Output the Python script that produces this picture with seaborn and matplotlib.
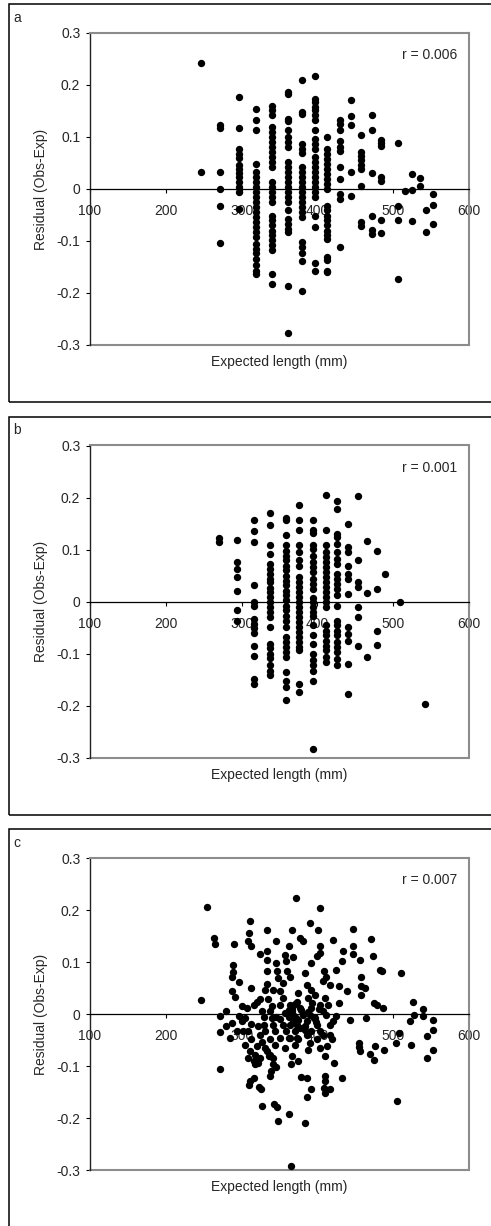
import matplotlib
matplotlib.use("Agg")
import matplotlib.pyplot as plt
from matplotlib.patches import Rectangle
import seaborn as sns
import pandas as pd

# ---------------- data ----------------
# Panel a: residuals grouped by expected length (mm)
a_lengths = [246, 272, 296, 319, 340, 361, 380, 397, 413, 430, 444, 458, 472,
             484, 506, 516, 525, 535, 543, 552]
a_residuals = [
    [0.242, 0.033],
    [0.124, 0.118, 0.033, 0.000, -0.032, -0.103],
    [0.176, 0.118, 0.076, 0.068, 0.059, 0.047, 0.039, 0.031, 0.023, 0.013, 0.004, -0.006, -0.038],
    [0.154, 0.132, 0.113, 0.049, 0.033, 0.023, 0.013, 0.004, -0.006, -0.016, -0.025, -0.035, -0.044,
     -0.054, -0.064, -0.073, -0.083, -0.092, -0.105, -0.115, -0.124, -0.134, -0.147, -0.157, -0.163],
    [0.159, 0.151, 0.142, 0.119, 0.109, 0.100, 0.090, 0.081, 0.071, 0.061, 0.052, 0.042, 0.013, 0.004,
     -0.006, -0.016, -0.025, -0.051, -0.060, -0.070, -0.080, -0.089, -0.099, -0.108, -0.118, -0.163, -0.182],
    [0.186, 0.183, 0.135, 0.131, 0.114, 0.100, 0.090, 0.081, 0.052, 0.042, 0.033, 0.023, 0.013, 0.004,
     -0.006, -0.016, -0.025, -0.041, -0.057, -0.067, -0.076, -0.083, -0.187, -0.277],
    [0.209, 0.148, 0.145, 0.087, 0.077, 0.069, 0.042, 0.033, 0.023, 0.013, 0.004, -0.006, -0.016,
     -0.025, -0.035, -0.044, -0.054, -0.102, -0.112, -0.124, -0.139, -0.196],
    [0.218, 0.174, 0.167, 0.158, 0.151, 0.142, 0.133, 0.114, 0.097, 0.087, 0.077, 0.061, 0.052, 0.042,
     0.033, 0.023, 0.013, 0.004, -0.006, -0.016, -0.051, -0.073, -0.142, -0.157],
    [0.100, 0.077, 0.068, 0.058, 0.049, 0.039, 0.029, 0.020, 0.010, 0.000, -0.032, -0.041, -0.051,
     -0.060, -0.070, -0.080, -0.089, -0.096, -0.131, -0.137, -0.157, -0.160],
    [0.132, 0.125, 0.113, 0.093, 0.081, 0.074, 0.042, 0.020, -0.009, -0.019, -0.112],
    [0.172, 0.140, 0.124, 0.033, -0.014],
    [0.103, 0.071, 0.063, 0.055, 0.047, 0.039, 0.005, -0.064, -0.072],
    [0.142, 0.114, 0.031, -0.051, -0.078, -0.086],
    [0.095, 0.088, 0.083, 0.023, 0.015, -0.059, -0.085],
    [0.088, -0.032, -0.060, -0.173],
    [-0.003],
    [0.028, -0.001, -0.062],
    [0.021, 0.006],
    [-0.040, -0.083],
    [-0.009, -0.030, -0.067],
]

# Panel b: residuals grouped by expected length (mm)
b_lengths = [270, 294, 317, 338, 358, 376, 394, 411, 426, 441, 454, 466, 479, 489, 509, 542]
b_residuals = [
    [0.122, 0.115],
    [0.118, 0.076, 0.063, 0.047, 0.021, -0.016, -0.037],
    [0.156, 0.135, 0.114, 0.032, -0.001, -0.008, -0.033, -0.043, -0.051, -0.060, -0.085, -0.104,
     -0.149, -0.159],
    [0.170, 0.147, 0.108, 0.091, 0.072, 0.063, 0.053, 0.044, 0.037, 0.026, 0.018, 0.008, -0.001,
     -0.011, -0.021, -0.030, -0.049, -0.081, -0.090, -0.101, -0.109, -0.123, -0.133, -0.142],
    [0.160, 0.156, 0.127, 0.108, 0.098, 0.088, 0.079, 0.069, 0.060, 0.050, 0.040, 0.031, 0.021, 0.002,
     0.012, -0.008, -0.017, -0.027, -0.037, -0.049, -0.069, -0.078, -0.088, -0.097, -0.107, -0.136,
     -0.152, -0.165, -0.190],
    [0.186, 0.156, 0.137, 0.108, 0.095, 0.079, 0.069, 0.047, 0.037, 0.028, 0.018, 0.008, -0.001,
     -0.011, -0.021, -0.030, -0.040, -0.049, -0.059, -0.069, -0.078, -0.088, -0.094, -0.158, -0.174],
    [0.156, 0.137, 0.132, 0.108, 0.101, 0.088, 0.076, 0.066, 0.056, 0.044, 0.034, 0.024, 0.006,
     -0.001, -0.011, -0.021, -0.027, -0.046, -0.065, -0.081, -0.101, -0.113, -0.123, -0.133, -0.152,
     -0.283],
    [0.205, 0.137, 0.108, 0.095, 0.085, 0.076, 0.066, 0.056, 0.047, 0.037, 0.028, 0.018, 0.008,
     -0.001, -0.011, -0.046, -0.056, -0.065, -0.075, -0.085, -0.094, -0.107, -0.117],
    [0.194, 0.178, 0.130, 0.124, 0.111, 0.095, 0.082, 0.072, 0.053, 0.044, 0.034, 0.024, 0.012,
     -0.008, -0.037, -0.046, -0.056, -0.065, -0.078, -0.088, -0.097, -0.110, -0.123],
    [0.149, 0.105, 0.095, 0.069, 0.053, 0.044, 0.015, -0.049, -0.062, -0.075, -0.120, -0.178],
    [0.203, 0.079, 0.037, 0.028, -0.011, -0.030, -0.085],
    [0.117, 0.017, -0.107],
    [0.098, 0.024, -0.056, -0.083],
    [0.053],
    [-0.001],
    [-0.197],
]

# Panel c: expected length (mm) and residual for each fish
c_length = [
    247, 255, 264, 265, 272, 272, 272, 279, 287, 287, 290, 289, 288, 287, 296, 291, 296, 300, 301, 305,
    307, 311, 310, 308, 312, 312, 316, 313, 320, 324, 322, 324, 327, 329, 331, 333, 334, 333, 334, 333,
    335, 338, 340, 342, 344, 346, 345, 347, 348, 351, 350, 355, 357, 359, 360, 363, 364, 366, 368, 364,
    366, 368, 372, 370, 373, 375, 377, 381, 384, 386, 388, 390, 391, 392, 395, 397, 401, 400, 403, 403,
    404, 407, 409, 410, 412, 414, 417, 421, 425, 428, 428, 432, 434, 439, 443, 447, 447, 447, 456, 457,
    457, 458, 463, 464, 471, 473, 475, 478, 483, 485, 487, 510, 526, 527, 522, 524, 539, 539, 553, 553,
    544, 553, 544, 505, 504, 507, 488, 476, 475, 469, 455, 455, 456, 433, 422, 419, 417, 413, 410, 410,
    410, 409, 410, 417, 403, 399, 392, 390, 388, 386, 379, 386, 392, 384, 375, 374, 366, 365, 357, 362,
    355, 346, 342, 339, 338, 336, 334, 331, 327, 324, 322, 320, 318, 311, 312, 311, 310, 316, 323, 325,
    327, 343, 347, 348, 363, 365, 309, 316, 318, 357, 362, 368, 373, 377, 381, 386, 390, 397, 399, 403,
    408, 412, 417, 421, 425, 377, 372, 364, 359, 351, 344, 338, 302, 294, 280, 285, 364, 370, 331, 342,
    386, 373, 384, 392, 403, 408, 329, 305, 309, 324, 338, 342,
    362, 366, 370, 375, 379, 383, 388, 393, 398, 402, 355, 350, 345, 340,
]
c_resid = [
    0.026, 0.206, 0.147, 0.135, -0.003, -0.035, -0.105, 0.005, 0.044, -0.017, 0.135, 0.094, 0.081, 0.071,
    0.062, 0.032, -0.004, 0.015, -0.014, -0.008, 0.012, 0.178, 0.156, 0.140, 0.130, 0.050, 0.018, -0.019,
    0.024, 0.115, -0.024, 0.028, 0.005, -0.006, -0.033, 0.162, 0.122, 0.104, 0.083, 0.058, 0.028, 0.005,
    -0.008, -0.021, -0.033, 0.140, 0.098, 0.082, 0.069, 0.044, 0.018, 0.060, 0.114, 0.101, 0.082, 0.130,
    0.072, 0.162, 0.110, 0.018, 0.005, -0.001, 0.223, -0.033, 0.024, 0.040, 0.146, 0.140, 0.079, 0.056,
    0.031, 0.175, 0.098, 0.012, -0.008, 0.037, 0.162, 0.111, 0.204, 0.130, 0.117, 0.063, 0.082, 0.031,
    0.072, 0.018, 0.056, 0.143, 0.085, 0.053, 0.021, 0.101, 0.121, 0.044, -0.011, 0.164, 0.130, 0.115,
    0.104, 0.072, 0.053, 0.037, 0.050, -0.008, 0.145, 0.111, 0.021, 0.018, 0.085, 0.082, 0.012, 0.079,
    0.024, -0.001, -0.014, -0.059, 0.010, -0.004, -0.011, -0.031, -0.043, -0.070, -0.085, -0.168, -0.056,
    -0.037, -0.070, -0.062, -0.088, -0.077, -0.056, -0.064, -0.072, -0.123, -0.094, -0.049, -0.040,
    -0.062, -0.081, -0.120, -0.129, -0.142, -0.152, -0.145, -0.065, -0.049, -0.033, -0.056, -0.069,
    -0.123, -0.122, -0.160, -0.145, -0.210, -0.049, -0.091, -0.081, -0.097, -0.065, -0.046, -0.021,
    -0.101, -0.097, -0.110, -0.120, -0.081, -0.072, -0.065, -0.054, -0.085, -0.094, -0.062, -0.078,
    -0.072, -0.049, -0.129, -0.136, -0.123, -0.141, -0.145, -0.176, -0.174, -0.179, -0.205, -0.192,
    -0.293, -0.085, -0.091, -0.097, 0.002, 0.008, -0.014, -0.021, -0.027, -0.001, -0.014, -0.001,
    -0.008, -0.021, -0.033, -0.040, -0.001, -0.021, -0.014, -0.004, 0.012, -0.008, -0.021, -0.033,
    -0.046, -0.059, -0.049, -0.033, -0.033, -0.024, -0.046, -0.046, -0.059, 0.047, 0.047, -0.040,
    -0.046, -0.024, 0.047, 0.018, 0.005, -0.021, -0.059, -0.033, -0.040, -0.078, -0.085,
    -0.005, 0.012, 0.020, -0.012, 0.008, -0.030, 0.003, 0.022, -0.015, 0.010, 0.030, -0.010, -0.005, 0.015,
]

panel_letters = ["a", "b", "c"]
r_values = ["0.006", "0.001", "0.007"]
x_ticks = [100, 200, 300, 400, 500, 600]
y_ticks = [-0.3, -0.2, -0.1, 0.0, 0.1, 0.2, 0.3]
y_tick_labels = ["-0.3", "-0.2", "-0.1", "0", "0.1", "0.2", "0.3"]


def expand(lengths, residuals):
    xs, ys = [], []
    for length, group in zip(lengths, residuals):
        xs.extend([length] * len(group))
        ys.extend(group)
    return pd.DataFrame({"length": xs, "resid": ys})


frames = [
    expand(a_lengths, a_residuals),
    expand(b_lengths, b_residuals),
    pd.DataFrame({"length": c_length, "resid": c_resid}),
]

# ---------------- styling ----------------
sns.set_style("white")
plt.rcParams["font.family"] = ["Liberation Sans", "DejaVu Sans"]
plt.rcParams["font.size"] = 10

W, H = 491, 1226
fig = plt.figure(figsize=(W / 100, H / 100), dpi=100)

pitch = 412.5
frame_grey = "#8c8c8c"

for i, df in enumerate(frames):
    top = 33 + pitch * i
    bot = 345 + pitch * i
    ax = fig.add_axes([90 / W, 1 - bot / H, 379 / W, (bot - top) / H])

    # outer border of the panel (open on the right edge of the page)
    box_top = 4 + pitch * i
    box_bot = 402 + pitch * i
    fig.patches.append(Rectangle((9 / W, 1 - box_bot / H), 1.2, (box_bot - box_top) / H,
                                 transform=fig.transFigure, fill=False,
                                 edgecolor="black", linewidth=1.1))

    sns.scatterplot(data=df, x="length", y="resid", ax=ax, color="black",
                    s=28, linewidth=0, legend=False, zorder=3)

    ax.set_xlim(100, 600)
    ax.set_ylim(-0.3, 0.3)

    # x axis crosses at zero
    ax.spines["bottom"].set_position(("data", 0))
    ax.spines["bottom"].set_color("black")
    ax.spines["bottom"].set_linewidth(0.9)
    ax.spines["left"].set_color("#222222")
    ax.spines["left"].set_linewidth(1.0)
    for side in ("top", "right"):
        ax.spines[side].set_color(frame_grey)
        ax.spines[side].set_linewidth(1.5)
    ax.axhline(-0.3, color=frame_grey, linewidth=1.5, clip_on=False, zorder=2)

    ax.set_xticks(x_ticks)
    ax.set_xticklabels([str(t) for t in x_ticks])
    ax.set_yticks(y_ticks)
    ax.set_yticklabels(y_tick_labels)
    ax.tick_params(axis="x", direction="out", length=3, width=0.8, color="black",
                   pad=8, labelsize=10, bottom=True)
    ax.tick_params(axis="y", direction="out", length=3, width=0.8, color="black",
                   pad=4, labelsize=10, left=True)
    ax.grid(False)

    ax.set_xlabel("Expected length (mm)", fontsize=10)
    ax.xaxis.label.set_va("center")
    ax.xaxis.set_label_coords(0.5, -0.0545)
    ax.set_ylabel("Residual (Obs-Exp)", fontsize=10)
    ax.yaxis.label.set_va("center")
    ax.yaxis.set_label_coords(-0.13, 0.5)

    ax.text(0.968, 0.929, f"r = {r_values[i]}", transform=ax.transAxes,
            ha="right", va="center", fontsize=10)

    fig.text(17 / W, 1 - (box_top + 14) / H, panel_letters[i],
             ha="center", va="center", fontsize=10)

fig.savefig("out.png", dpi=100)
